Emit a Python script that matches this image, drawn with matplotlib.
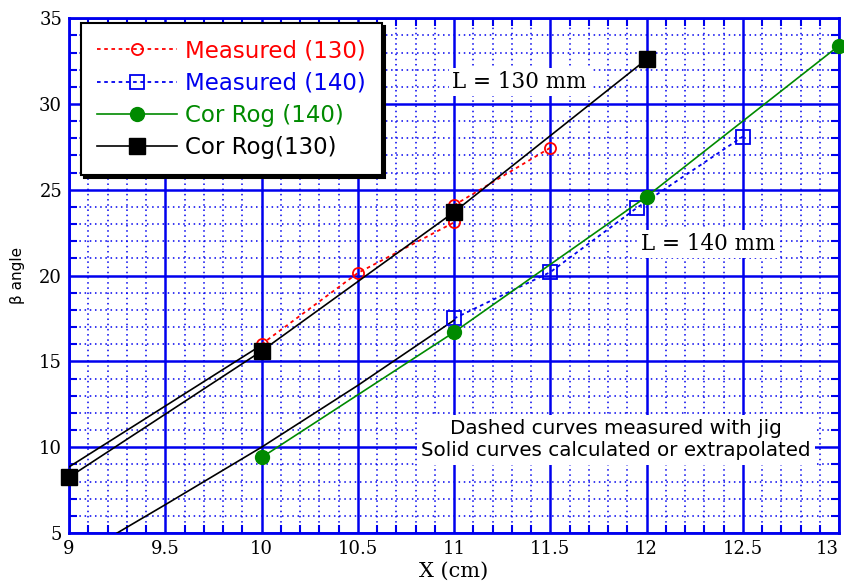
import numpy as np
import matplotlib
matplotlib.use("Agg")
import matplotlib.pyplot as plt
from matplotlib.ticker import MultipleLocator

# measured with jig (dashed)
meas130_x = [10.0, 10.5, 11.0, 11.0, 11.5]
meas130_y = [16.0, 20.15, 23.1, 24.1, 27.45]
meas140_x = [11.0, 11.5, 11.95, 12.5]
meas140_y = [17.5, 20.2, 23.95, 28.1]

# calculated (solid)
rog140_x = [10.0, 11.0, 12.0, 13.0]
rog140_y = [9.4, 16.7, 24.6, 33.4]
rog130_x = [9.0, 10.0, 11.0, 12.0]
rog130_y = [8.25, 15.6, 23.7, 32.6]

# extrapolated (solid, no markers)
extra130_x = [9.0, 10.0]
extra130_y = [8.85, 15.95]
extra140_x = [9.25, 9.5, 10.0, 10.5, 11.0]
extra140_y = [5.0, 6.65, 10.0, 13.6, 17.4]

xticks = [9, 9.5, 10, 10.5, 11, 11.5, 12, 12.5, 13]
xticklabels = ["9", "9.5", "10", "10.5", "11", "11.5", "12", "12.5", "13"]

blue = "#0000ee"
green = "#008a00"

fig = plt.figure(figsize=(8.44, 5.87), dpi=100)
ax = fig.add_axes([0.0818, 0.092, 0.9123, 0.877])

ax.set_xlim(9, 13)
ax.set_ylim(5, 35)
ax.set_xticks(xticks)
ax.set_xticklabels(xticklabels)
ax.xaxis.set_minor_locator(MultipleLocator(0.1))
ax.yaxis.set_major_locator(MultipleLocator(5))
ax.yaxis.set_minor_locator(MultipleLocator(1))

ax.grid(which="major", color=blue, lw=1.8, ls="-")
ax.grid(which="minor", color=blue, lw=1.1, ls=(0, (1, 2.4)))
ax.set_axisbelow(True)
for s in ax.spines.values():
    s.set_color(blue)
    s.set_linewidth(2)
ax.tick_params(which="both", direction="in", color=blue, top=True, right=True)
ax.tick_params(which="major", length=0, labelsize=13, pad=5)
ax.tick_params(which="minor", length=6, width=1.5)
for lab in ax.get_xticklabels() + ax.get_yticklabels():
    lab.set_family("DejaVu Serif")
ax.get_xticklabels()[-1].set_ha("right")

ax.plot(extra130_x, extra130_y, color="black", lw=1.2, zorder=3)
ax.plot(extra140_x, extra140_y, color="black", lw=1.2, zorder=3)

ax.plot(meas130_x, meas130_y, color="red", ls=(0, (2, 2)), lw=1.3,
        marker="o", mfc="none", mec="red", ms=8, mew=1.3,
        label="Measured (130)", zorder=4)
ax.plot(meas140_x, meas140_y, color=blue, ls=(0, (2, 2)), lw=1.3,
        marker="s", mfc="none", mec=blue, ms=10, mew=1.3,
        label="Measured (140)", zorder=4)
ax.plot(rog140_x, rog140_y, color=green, lw=1.2, marker="o", ms=10,
        label="Cor Rog (140)", zorder=5, clip_on=False)
ax.plot(rog130_x, rog130_y, color="black", lw=1.2, marker="s", ms=11,
        label="Cor Rog(130)", zorder=5, clip_on=False)

leg = ax.legend(loc="upper left", bbox_to_anchor=(0.0156, 0.99),
                borderaxespad=0, fontsize=16.5, handlelength=3.5,
                handletextpad=0.35, labelspacing=0.4, fancybox=False,
                framealpha=1, borderpad=0.7,
                shadow={"color": "black", "alpha": 1})
leg.get_frame().set_edgecolor("black")
leg.get_frame().set_linewidth(1.5)
for txt, c in zip(leg.get_texts(), ["red", blue, green, "black"]):
    txt.set_color(c)

box = dict(facecolor="white", edgecolor="none", pad=2)
ax.text(11.34, 31.27, "L = 130 mm", family="DejaVu Serif", fontsize=15.5,
        ha="center", va="center", bbox=box, zorder=4)
ax.text(12.32, 21.84, "L = 140 mm", family="DejaVu Serif", fontsize=15.5,
        ha="center", va="center", bbox=box, zorder=4)
ax.text(11.84, 10.42, "Dashed curves measured with jig\nSolid curves calculated or extrapolated",
        fontsize=14.3, ha="center", va="center", linespacing=1.2,
        bbox=dict(facecolor="white", edgecolor="none", pad=3), zorder=4)

ax.set_xlabel("X (cm)", family="DejaVu Serif", fontsize=15, labelpad=3)
ax.set_ylabel("β angle", fontsize=11, labelpad=10)

fig.savefig("out.png", dpi=100)
